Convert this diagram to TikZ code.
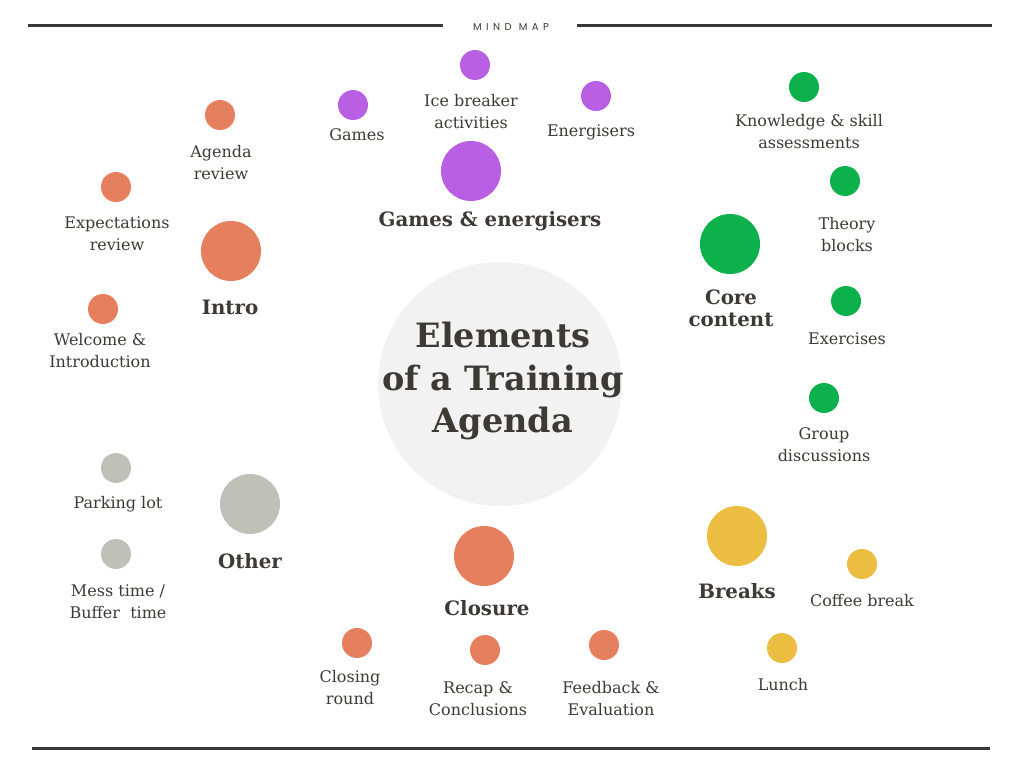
\documentclass[tikz,border=0pt]{standalone}
\usepackage{fontspec}
\setmainfont{DejaVu Serif}
\newfontfamily\mmfont{Poppins}
\definecolor{ink}{HTML}{3D3935}
\definecolor{cpurple}{HTML}{B95FE3}
\definecolor{corange}{HTML}{E57F5E}
\definecolor{cgreen}{HTML}{0DB14B}
\definecolor{cyellow}{HTML}{EBBD40}
\definecolor{cgray}{HTML}{BFC1B8}
\definecolor{cbg}{HTML}{F2F2F2}
\definecolor{rulec}{HTML}{3B3835}
\begin{document}
\begin{tikzpicture}[x=1pt,y=-1pt,
  dot/.style={circle,inner sep=0pt,minimum size=30pt,fill=#1},
  bigdot/.style={circle,inner sep=0pt,minimum size=60pt,fill=#1},
  lbl/.style={text=ink,align=center,font=\fontsize{16}{22}\selectfont,inner sep=0pt},
  cat/.style={text=ink,align=center,font=\fontsize{19.8}{22}\selectfont\bfseries,inner sep=0pt},
  rulel/.style={draw=rulec,line width=3pt}]
\useasboundingbox (0,0) rectangle (1024,768);
% rules
\coordinate (t1) at (28,26); \coordinate (t2) at (443,26);
\coordinate (t3) at (577,26); \coordinate (t4) at (992,26);
\coordinate (b1) at (32,748); \coordinate (b2) at (990,748);
\draw[rulel] (t1) -- (t2);
\draw[rulel] (t3) -- (t4);
\draw[rulel] (b1) -- (b2);
\node[text=ink,font=\mmfont\fontsize{10}{10}\selectfont\addfontfeature{LetterSpace=45}] (mm) at (511,27) {MIND MAP};
% center
\node[circle,fill=cbg,minimum size=244pt,inner sep=0pt] (c) at (500,384) {};
\node[text=ink,align=center,font=\fontsize{33.5}{42.5}\selectfont\bfseries,inner sep=0pt] (title) at (503,381) {Elements\\of a Training\\Agenda};
% games & energisers
\node[dot=cpurple] (g1) at (353,105) {};
\node[lbl] (g1l) at (357,135) {Games};
\node[dot=cpurple] (g2) at (475,65) {};
\node[lbl] (g2l) at (471,112) {Ice breaker\\activities};
\node[dot=cpurple] (g3) at (596,96) {};
\node[lbl] (g3l) at (591,132) {Energisers};
\node[bigdot=cpurple] (G) at (471,171) {};
\node[cat] (Gl) at (490,221) {Games \& energisers};
% intro
\node[dot=corange] (i1) at (220,115) {};
\node[lbl] (i1l) at (221,163) {Agenda\\review};
\node[dot=corange] (i2) at (116,187) {};
\node[lbl] (i2l) at (117,234) {Expectations\\review};
\node[bigdot=corange] (I) at (231,251) {};
\node[cat] (Il) at (230,307) {Intro};
\node[dot=corange] (i3) at (103,309) {};
\node[lbl] (i3l) at (100,351) {Welcome \&\\Introduction};
% core content
\node[dot=cgreen] (k1) at (804,87) {};
\node[lbl] (k1l) at (809,132) {Knowledge \& skill\\assessments};
\node[dot=cgreen] (k2) at (845,181) {};
\node[lbl] (k2l) at (847,235) {Theory\\blocks};
\node[bigdot=cgreen] (K) at (730,244) {};
\node[cat] (Kl) at (731,308) {Core\\content};
\node[dot=cgreen] (k3) at (846,301) {};
\node[lbl] (k3l) at (847,339) {Exercises};
\node[dot=cgreen] (k4) at (824,398) {};
\node[lbl] (k4l) at (824,445) {Group\\discussions};
% other
\node[dot=cgray] (o1) at (116,468) {};
\node[lbl] (o1l) at (118,504) {Parking lot};
\node[bigdot=cgray] (O) at (250,504) {};
\node[cat] (Ol) at (250,561) {Other};
\node[dot=cgray] (o2) at (116,554) {};
\node[lbl] (o2l) at (118,602) {Mess time /\\Buffer\ \ time};
% closure
\node[bigdot=corange] (C) at (484,556) {};
\node[cat] (Cl) at (487,608) {Closure};
\node[dot=corange] (c1) at (357,643) {};
\node[lbl] (c1l) at (350,688) {Closing\\round};
\node[dot=corange] (c2) at (485,650) {};
\node[lbl] (c2l) at (478,699) {Recap \&\\Conclusions};
\node[dot=corange] (c3) at (604,645) {};
\node[lbl] (c3l) at (611,699) {Feedback \&\\Evaluation};
% breaks
\node[bigdot=cyellow] (B) at (737,536) {};
\node[cat] (Bl) at (737,591) {Breaks};
\node[dot=cyellow] (b1n) at (862,564) {};
\node[lbl] (b1l) at (862,601) {Coffee break};
\node[dot=cyellow] (b2n) at (782,648) {};
\node[lbl] (b2l) at (783,685) {Lunch};
\end{tikzpicture}
\end{document}
